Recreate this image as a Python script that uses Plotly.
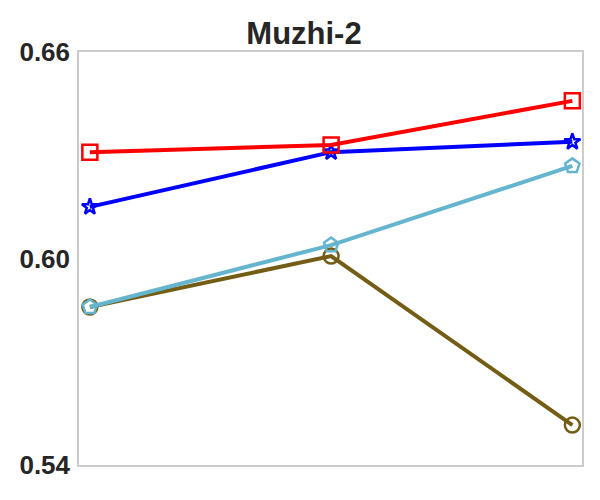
import plotly.graph_objects as go

TITLE = "Muzhi-2"
X = [0, 1, 2]
Y_TICKS = [0.54, 0.60, 0.66]
Y_TICK_TEXT = ["0.54", "0.60", "0.66"]

brown_vals = [0.5859, 0.6007, 0.5516]
cyan_vals = [0.5859, 0.6039, 0.6269]
blue_vals = [0.6150, 0.6309, 0.6339]
red_vals = [0.6309, 0.6330, 0.6458]

# values, colour, marker symbol, marker size
SERIES = [
    (brown_vals, "#735C14", "circle-open", 15),
    (cyan_vals, "#64B5CD", "pentagon-open", 15),
    (blue_vals, "#0000FF", "star-open", 12),
    (red_vals, "#FF0000", "square-open", 15),
]

FONT = "Liberation Sans, Arial, sans-serif"

fig = go.Figure()
for vals, color, symbol, msize in SERIES:
    fig.add_trace(go.Scatter(
        x=X, y=vals, mode="lines+markers",
        line=dict(color=color, width=4),
        marker=dict(symbol=symbol, size=msize, color=color,
                    line=dict(color=color, width=2.5)),
        showlegend=False,
    ))

# page body has an 8px margin, so the figure is 592x492 and margins are shifted
fig.update_layout(
    width=592, height=492,
    paper_bgcolor="white", plot_bgcolor="white",
    font=dict(family=FONT, color="#262626"),
    title=dict(text=f"<b>{TITLE}</b>", x=0.5, xanchor="center",
               y=1 - 25 / 492, yanchor="middle", font=dict(size=31, color="#262626")),
    margin=dict(l=71, r=18, t=44, b=35),
    xaxis=dict(range=[-0.045, 2.04], showticklabels=False, showgrid=False,
               zeroline=False, showline=True, linecolor="#CCCCCC", linewidth=1.5,
               mirror=True, ticks="", automargin=False),
    yaxis=dict(range=[0.54, 0.66], tickvals=Y_TICKS,
               ticktext=[f"<b>{t}</b>" for t in Y_TICK_TEXT],
               showgrid=False, zeroline=False, showline=True, linecolor="#CCCCCC",
               linewidth=1.5, mirror=True, ticks="", automargin=False,
               tickfont=dict(size=26, color="#262626", family=FONT),
               ticklabelstandoff=2),
)

fig.write_html("out.html")
